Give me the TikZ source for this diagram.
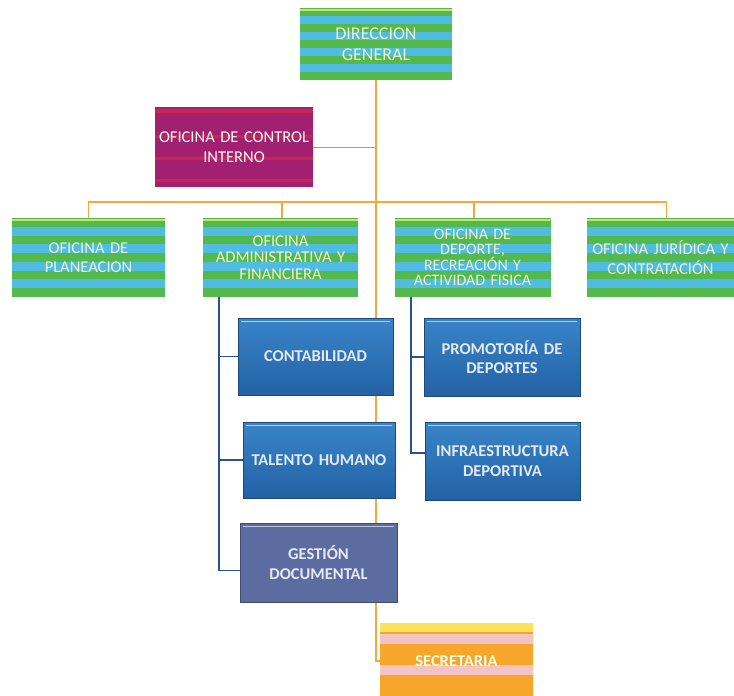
\documentclass[tikz,border=0pt]{standalone}
\usepackage{fontspec}
\setmainfont{Carlito}
\usetikzlibrary{calc}
\definecolor{gfill}{RGB}{84,185,76}
\definecolor{gcyan}{RGB}{80,188,226}
\definecolor{gtext}{RGB}{238,242,196}
\definecolor{ocifill}{RGB}{162,32,112}
\definecolor{ocired}{RGB}{200,38,78}
\definecolor{bluetop}{RGB}{58,132,200}
\definecolor{bluebot}{RGB}{34,98,165}
\definecolor{blueborder}{RGB}{30,72,118}
\definecolor{bluetext}{RGB}{228,234,242}
\definecolor{gesfill}{RGB}{92,108,160}
\definecolor{orangeline}{RGB}{242,170,62}
\definecolor{blueline}{RGB}{42,82,142}
\definecolor{secorange}{RGB}{246,166,40}
\definecolor{secpink}{RGB}{244,196,196}
\definecolor{secyellow}{RGB}{250,226,90}
\tikzset{
  x=1pt, y=-1pt,
  boxbase/.style={inner sep=0pt, align=center, font=\fontsize{16.5}{19.5}\selectfont},
  greenbox/.style={boxbase, fill=gfill, text=gtext,
    path picture={\foreach \k in {1,3,5,7}{%
      \pgfmathsetmacro\fa{\k/9}\pgfmathsetmacro\fb{(\k+1)/9}%
      \fill[gcyan] ($(path picture bounding box.north west)!\fa!(path picture bounding box.south west)$) rectangle ($(path picture bounding box.north east)!\fb!(path picture bounding box.south east)$);}%
      \draw[yellow!60!green!60, line width=1.2pt] ($(path picture bounding box.north west)+(0,2)$) -- ($(path picture bounding box.north east)+(0,2)$);}},
  ocibox/.style={boxbase, fill=ocifill, text=white!92!pink,
    path picture={\foreach \k in {0.03,0.35,0.62,0.9}{%
      \pgfmathsetmacro\fb{\k+0.04}%
      \fill[ocired] ($(path picture bounding box.north west)!\k!(path picture bounding box.south west)$) rectangle ($(path picture bounding box.north east)!\fb!(path picture bounding box.south east)$);}}},
  bluebox/.style={boxbase, font=\bfseries\fontsize{16.5}{19.5}\selectfont, top color=bluetop, bottom color=bluebot, draw=blueborder, line width=1pt, text=bluetext,
    path picture={\draw[white!60!bluetop, line width=1pt] ($(path picture bounding box.north west)+(3,3)$) -- ($(path picture bounding box.north east)+(-3,3)$);}},
  gesbox/.style={boxbase, font=\bfseries\fontsize{16.5}{19.5}\selectfont, fill=gesfill, draw=gesfill!70!black, line width=1pt, text=bluetext,
    path picture={\draw[white!60!gesfill, line width=1pt] ($(path picture bounding box.north west)+(3,3)$) -- ($(path picture bounding box.north east)+(-3,3)$);}},
  secbox/.style={boxbase, font=\bfseries\fontsize{16.5}{19.5}\selectfont, fill=secorange, text=white!90!yellow,
    path picture={%
      \fill[secyellow] ($(path picture bounding box.north west)$) rectangle ($(path picture bounding box.north east)!0.12!(path picture bounding box.south east)$);
      \fill[secpink] ($(path picture bounding box.north west)!0.14!(path picture bounding box.south west)$) rectangle ($(path picture bounding box.north east)!0.27!(path picture bounding box.south east)$);
      \fill[secpink] ($(path picture bounding box.north west)!0.55!(path picture bounding box.south west)$) rectangle ($(path picture bounding box.north east)!0.68!(path picture bounding box.south east)$);}},
  oline/.style={draw=orangeline, line width=1.4pt},
  pline/.style={draw=ocired!60!white, line width=0.8pt},
  bline/.style={draw=blueline, line width=1.4pt},
}
\begin{document}
\begin{tikzpicture}
\useasboundingbox[fill=white] (0,0) rectangle (734,696);
% nodes
\node[greenbox, font=\fontsize{18}{21}\selectfont, minimum width=152pt, minimum height=72pt, text width=152pt] (dir) at (376,44) {DIRECCION\\GENERAL};
\node[ocibox, minimum width=158pt, minimum height=80pt, text width=158pt] (oci) at (234,147) {OFICINA DE CONTROL\\INTERNO};
\node[greenbox, minimum width=153pt, minimum height=79pt, text width=153pt] (plan) at (88.5,257.5) {OFICINA DE\\PLANEACION};
\node[greenbox, font=\fontsize{16.5}{16.5}\selectfont, minimum width=155pt, minimum height=79pt, text width=155pt] (adm) at (280.5,257.5) {OFICINA\\ADMINISTRATIVA Y\\FINANCIERA};
\node[greenbox, font=\fontsize{16}{14.5}\selectfont, minimum width=156pt, minimum height=79pt, text width=156pt] (dep) at (472.5,257.5) {OFICINA DE\\DEPORTE,\\RECREACIÓN Y\\ACTIVIDAD FISICA};
\node[greenbox, minimum width=147pt, minimum height=79pt, text width=147pt] (jur) at (660.5,257.5) {OFICINA JURÍDICA Y\\CONTRATACIÓN};
% connectors (drawn before the lower boxes)
\draw[oline] (dir.south) |- (456,661);
\draw[pline] (oci.east) -- (oci.east -| dir.south);
\draw[oline] (plan.north) -- ++(0,-16) -| ([xshift=6pt]jur.north);
\draw[oline] ([xshift=1.5pt]adm.north) -- ++(0,-16);
\draw[oline] ([xshift=1.5pt]dep.north) -- ++(0,-16);
\node[bluebox, minimum width=155pt, minimum height=77pt, text width=155pt] (cont) at (315.5,356.5) {CONTABILIDAD};
\node[bluebox, minimum width=152pt, minimum height=76pt, text width=152pt] (tal) at (319,460) {TALENTO HUMANO};
\node[bluebox, minimum width=156pt, minimum height=78pt, text width=156pt] (pro) at (502,357) {PROMOTORÍA DE\\DEPORTES};
\node[bluebox, minimum width=155pt, minimum height=78pt, text width=155pt] (inf) at (502.5,461) {INFRAESTRUCTURA\\DEPORTIVA};
\node[gesbox, minimum width=157pt, minimum height=79pt, text width=157pt] (ges) at (318.5,562.5) {GESTIÓN\\DOCUMENTAL};
\node[secbox, minimum width=153pt, minimum height=77pt, text width=153pt] (sec) at (456.5,661.5) {SECRETARIA};
\draw[bline] ([xshift=16pt]adm.south west) |- ([yshift=-8pt]ges.west);
\draw[bline] ([xshift=16pt]adm.south west) |- (cont.west);
\draw[bline] ([xshift=16pt]adm.south west) |- (tal.west);
\draw[bline] ([xshift=16.5pt]dep.south west) |- ([yshift=8pt]inf.west);
\draw[bline] ([xshift=16.5pt]dep.south west) |- (pro.west);
\end{tikzpicture}
\end{document}
